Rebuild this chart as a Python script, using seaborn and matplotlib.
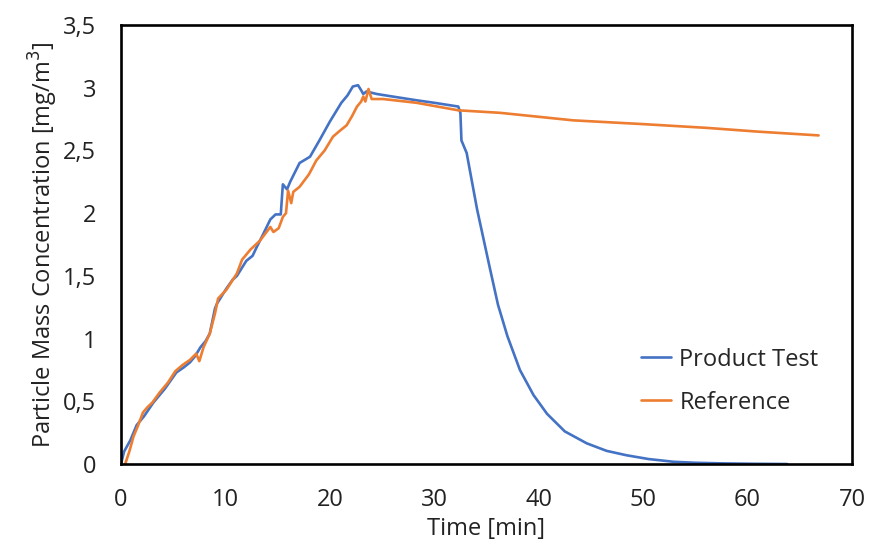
import numpy as np
import pandas as pd
import matplotlib
matplotlib.use("Agg")
import matplotlib.pyplot as plt
import seaborn as sns

# Product test chamber run: particle mass concentration over time
product_time = [0, 0.3, 0.9, 1.5, 2.2, 3.1, 4.2, 5.3, 6.0, 6.6, 7.1, 7.6, 8.1, 8.5,
                9.0, 9.2, 9.5, 10.1, 10.7, 11.1, 12.0, 12.6, 13.0, 13.6, 14.3, 14.8,
                15.3, 15.5, 15.9, 16.2, 17.1, 18.1, 19.0, 20.0, 21.1, 21.7, 22.2, 22.7,
                23.0, 23.2, 23.5, 24.5, 26.0, 28.3, 30.0, 32.3, 32.5, 32.6, 33.1, 34.1,
                35.3, 36.1, 37.0, 38.2, 39.5, 40.8, 42.5, 44.6, 46.5, 48.4, 50.5, 52.9,
                55.0, 57.7, 60.5, 63.8]
product_conc = [0.0, 0.10, 0.19, 0.31, 0.38, 0.49, 0.60, 0.73, 0.77, 0.81, 0.86, 0.93,
                0.98, 1.04, 1.24, 1.28, 1.32, 1.40, 1.47, 1.50, 1.62, 1.66, 1.73, 1.83,
                1.95, 1.99, 1.99, 2.23, 2.19, 2.25, 2.40, 2.45, 2.58, 2.73, 2.88, 2.94,
                3.01, 3.02, 2.98, 2.95, 2.97, 2.95, 2.93, 2.90, 2.88, 2.85, 2.80, 2.58,
                2.48, 2.03, 1.57, 1.27, 1.02, 0.75, 0.55, 0.40, 0.26, 0.165, 0.105, 0.07,
                0.04, 0.018, 0.01, 0.005, 0.002, 0.0]

# Reference run (no product): natural decay only
reference_time = [0.4, 0.8, 1.2, 1.6, 2.1, 2.5, 3.0, 3.7, 4.5, 5.2, 5.9, 6.6, 7.2, 7.5,
                  7.9, 8.5, 9.0, 9.3, 10.1, 11.1, 11.6, 12.4, 13.3, 14.3, 14.6, 15.1,
                  15.5, 15.8, 16.0, 16.3, 16.5, 17.1, 18.0, 18.7, 19.5, 20.3, 21.0, 21.6,
                  22.1, 22.6, 23.0, 23.2, 23.4, 23.7, 24.0, 25.1, 28.3, 32.3, 36.3, 43.3,
                  50.0, 56.1, 61.0, 66.8]
reference_conc = [0.0, 0.10, 0.22, 0.30, 0.41, 0.45, 0.49, 0.57, 0.65, 0.74, 0.79, 0.83,
                  0.88, 0.82, 0.93, 1.04, 1.20, 1.32, 1.39, 1.52, 1.63, 1.71, 1.78, 1.89,
                  1.85, 1.88, 1.97, 2.00, 2.18, 2.08, 2.17, 2.21, 2.31, 2.42, 2.50, 2.61,
                  2.66, 2.70, 2.77, 2.85, 2.89, 2.93, 2.89, 2.99, 2.91, 2.91, 2.88, 2.82,
                  2.80, 2.74, 2.71, 2.68, 2.65, 2.62]

series_names = ["Product Test", "Reference"]
series_colors = ["#4472C4", "#ED7D31"]

x_ticks = [0, 10, 20, 30, 40, 50, 60, 70]
y_ticks = [0, 0.5, 1, 1.5, 2, 2.5, 3, 3.5]
y_tick_labels = ["0", "0,5", "1", "1,5", "2", "2,5", "3", "3,5"]

df = pd.concat([
    pd.DataFrame({"Time": product_time, "Conc": product_conc, "Series": series_names[0]}),
    pd.DataFrame({"Time": reference_time, "Conc": reference_conc, "Series": series_names[1]}),
], ignore_index=True)

sns.set_theme(style="white")
plt.rcParams["font.family"] = ["Open Sans", "DejaVu Sans"]

fig = plt.figure(figsize=(8.78, 5.44), dpi=100)
ax = fig.add_axes([0.1378, 0.147, 0.8326, 0.807])

sns.lineplot(data=df, x="Time", y="Conc", hue="Series", hue_order=series_names,
             palette=series_colors, linewidth=1.9, sort=False, estimator=None, ax=ax)

ax.set_xlim(0, 70)
ax.set_ylim(0, 3.5)
ax.set_xticks(x_ticks)
ax.set_xticklabels([str(v) for v in x_ticks])
ax.set_yticks(y_ticks)
ax.set_yticklabels(y_tick_labels)
ax.tick_params(axis="both", labelsize=17, colors="#222222", length=0)
ax.tick_params(axis="x", pad=17)
ax.tick_params(axis="y", pad=18)

ax.set_xlabel("Time [min]", fontsize=17, color="#222222", labelpad=4)
ax.set_ylabel("Particle Mass Concentration [mg/m$^3$]", fontsize=17,
              color="#222222", labelpad=2)

for spine in ax.spines.values():
    spine.set_visible(True)
    spine.set_color("black")
    spine.set_linewidth(1.9)

leg = ax.legend(loc="center left", bbox_to_anchor=(0.712, 0.189), frameon=False,
                fontsize=17, handlelength=1.25, handletextpad=0.35, labelspacing=0.8,
                borderaxespad=0, borderpad=0)
for line in leg.get_lines():
    line.set_linewidth(1.9)

fig.savefig("out.png", dpi=100, facecolor="white")
